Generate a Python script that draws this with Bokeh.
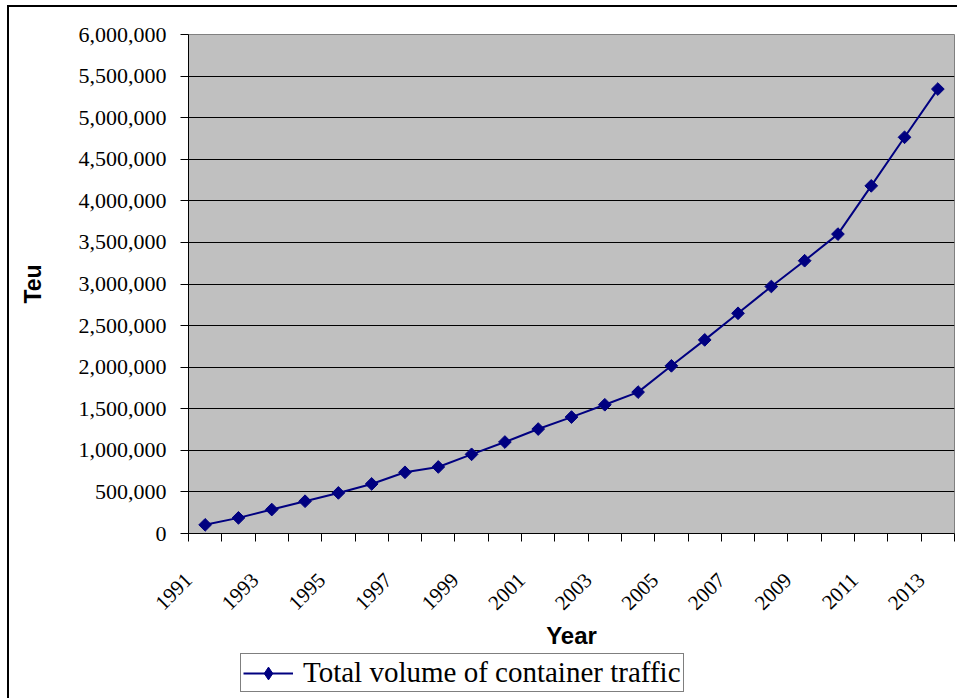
import math

from bokeh.embed import file_html
from bokeh.layouts import column
from bokeh.models import (ColumnDataSource, FixedTicker, Legend, LegendItem,
                          NumeralTickFormatter, Range1d)
from bokeh.plotting import figure
from bokeh.resources import INLINE

# Annual container throughput (TEU)
years = list(range(1991, 2014))
teu = [104000, 188000, 288000, 388000, 488000, 596000, 736000, 800000,
       952000, 1100000, 1256000, 1400000, 1548000, 1700000, 2016000,
       2328000, 2648000, 2970000, 3280000, 3600000, 4180000, 4764000,
       5344000]
series_name = "Total volume of container traffic"

# Axis ticks
year_labels = ["1991", "1993", "1995", "1997", "1999", "2001", "2003",
               "2005", "2007", "2009", "2011", "2013"]
y_ticks = [0, 500000, 1000000, 1500000, 2000000, 2500000, 3000000,
           3500000, 4000000, 4500000, 5000000, 5500000, 6000000]

NAVY = "#000080"
SERIF = "Liberation Serif"
SANS = "Liberation Sans"

W = 957
CHART_H = 652
LEGEND_H = 46
FRAME_LEFT, FRAME_TOP, FRAME_BOTTOM = 188, 34, 534


def border_style(top):
    """Thin black chart border along the left (and optionally top) edge."""
    images = ["linear-gradient(#000,#000)"]
    pos = ["7px 5px" if top else "7px 0px"]
    size = ["2px 100%"]
    if top:
        images.append("linear-gradient(#000,#000)")
        pos.append("7px 5px")
        size.append("100% 2px")
    return {
        "background-color": "#ffffff",
        "background-image": ", ".join(images),
        "background-position": ", ".join(pos),
        "background-size": ", ".join(size),
        "background-repeat": ", ".join(["no-repeat"] * len(images)),
    }


p = figure(width=W, height=CHART_H, output_backend="svg", toolbar_location=None,
           x_range=Range1d(years[0] - 0.5, years[-1] + 0.5),
           y_range=Range1d(y_ticks[0], y_ticks[-1]),
           min_border_left=FRAME_LEFT, min_border_right=3,
           min_border_top=FRAME_TOP, min_border_bottom=CHART_H - FRAME_BOTTOM,
           background_fill_color="#c0c0c0",
           border_fill_color="white", border_fill_alpha=0,
           styles=border_style(top=True))
p.outline_line_color = "#808080"
p.outline_line_width = 1

# Category boundaries carry the tick marks; each year label ends at the
# left boundary of its category
boundaries = [years[0] - 0.5 + i for i in range(len(years) + 1)]
label_shift = 0.5
label_pos = [int(s) - label_shift for s in year_labels]

xa = p.xaxis[0]
xa.ticker = FixedTicker(ticks=label_pos, minor_ticks=boundaries)
xa.major_label_overrides = {pos: s for pos, s in zip(label_pos, year_labels)}
xa.major_tick_out = 0
xa.major_tick_in = 0
xa.minor_tick_out = 8
xa.minor_tick_in = 0
xa.minor_tick_line_color = "black"
xa.axis_line_color = "black"
xa.major_label_orientation = math.pi / 4
xa.major_label_standoff = 35
xa.major_label_text_font = SERIF
xa.major_label_text_font_size = "21px"
xa.major_label_text_color = "black"
xa.axis_label = "Year"
xa.axis_label_text_font = SANS
xa.axis_label_text_font_style = "bold"
xa.axis_label_text_font_size = "24px"
xa.axis_label_text_color = "black"
xa.axis_label_standoff = 3

ya = p.yaxis[0]
ya.ticker = FixedTicker(ticks=y_ticks)
ya.formatter = NumeralTickFormatter(format="0,0")
ya.major_tick_out = 8
ya.major_tick_in = 0
ya.minor_tick_line_color = None
ya.axis_line_color = "black"
ya.major_tick_line_color = "black"
ya.major_label_standoff = 14
ya.major_label_text_font = SERIF
ya.major_label_text_font_size = "22px"
ya.major_label_text_color = "black"
ya.axis_label = "Teu"
ya.axis_label_text_font = SANS
ya.axis_label_text_font_style = "bold"
ya.axis_label_text_font_size = "23px"
ya.axis_label_text_color = "black"
ya.axis_label_standoff = 30

p.xgrid.visible = False
p.ygrid[0].ticker = FixedTicker(ticks=y_ticks[1:-1])
p.ygrid.grid_line_color = "black"
p.ygrid.grid_line_width = 1

src = ColumnDataSource(dict(year=years, teu=teu))
line_style = dict(line_color=NAVY, line_width=2)
p.line("year", "teu", source=src, **line_style)
p.scatter("year", "teu", source=src, marker="square", angle=math.pi / 4,
          size=9, fill_color=NAVY, line_color=NAVY)

# Legend strip under the chart; its renderers share the series styling and
# sit outside the strip's (empty) ranges. The strip's frame lines up with
# the chart's frame, so the legend offset is measured from x = FRAME_LEFT.
lg = figure(width=W, height=LEGEND_H, output_backend="svg",
            toolbar_location=None, x_axis_type=None, y_axis_type=None,
            x_range=Range1d(0, 1), y_range=Range1d(0, 1),
            min_border=0, outline_line_color=None,
            background_fill_alpha=0, border_fill_alpha=0,
            styles=border_style(top=False))
lg.grid.visible = False
lg_line = lg.line("year", "teu", source=src, **line_style)
lg_mark = lg.scatter("year", "teu", source=src, marker="diamond", size=14,
                     fill_color=NAVY, line_color=NAVY)

legend_left, legend_bottom = 240, 692
legend = Legend(items=[LegendItem(label=series_name,
                                  renderers=[lg_line, lg_mark])],
                location=(legend_left - FRAME_LEFT,
                          CHART_H + LEGEND_H - legend_bottom),
                orientation="vertical",
                border_line_color="black", border_line_width=1,
                background_fill_color="white", background_fill_alpha=1,
                label_text_font=SERIF, label_text_font_size="29px",
                label_text_color="black",
                glyph_width=50, glyph_height=32, label_standoff=10,
                padding=2, margin=0, spacing=0)
lg.add_layout(legend, "center")

page = column(p, lg, spacing=0)
open("out.html", "w").write(file_html(page, INLINE))
